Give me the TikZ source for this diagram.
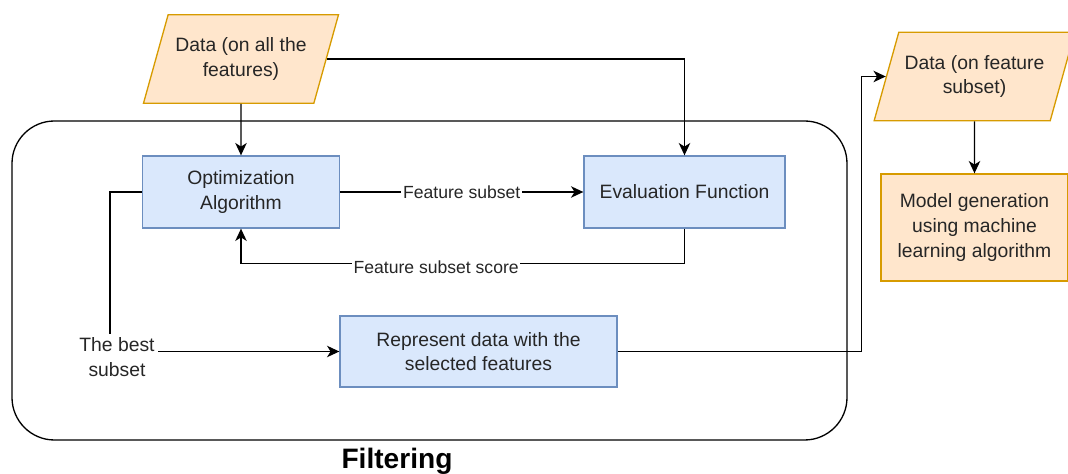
\documentclass[tikz,border=0pt]{standalone}
\usepackage{fontspec}
\setmainfont{Liberation Sans}
\usetikzlibrary{shapes.geometric,arrows.meta}
\definecolor{blockfill}{HTML}{DAE8FC}
\definecolor{blockline}{HTML}{6C8EBF}
\definecolor{datafill}{HTML}{FFE6CC}
\definecolor{dataline}{HTML}{D79B00}

\begin{document}
\begin{tikzpicture}[>={Stealth[length=7pt,width=6.5pt,inset=2pt]},font=\fontsize{11}{14}\selectfont,node distance=1cm]

    % Define node styles
    \tikzstyle{algo_block} = [draw=blockline, fill=blockfill, line width=0.75pt, minimum width=3.94cm, minimum height=1.44cm, text centered, align=center, text=black!85]
    \tikzstyle{represent_block} = [draw=blockline, fill=blockfill, line width=0.75pt, minimum width=5.54cm, minimum height=1.42cm, text centered, align=center, text=black!85]
    \tikzstyle{data_block} = [trapezium, trapezium left angle=65.6, trapezium right angle=114.4, trapezium stretches body, draw=dataline, fill=datafill, line width=0.75pt, minimum width=3.9cm, minimum height=1.77cm, text centered, align=center, text=black!85]
    \tikzstyle{model_block} = [draw=dataline, fill=datafill, line width=0.75pt, minimum width=3.74cm, minimum height=2.14cm, text centered, align=center, text=black!85]
    \tikzstyle{filter_frame} = [draw, line width=0.75pt, rounded corners=0.85cm, minimum width=16.7cm, minimum height=6.38cm]
    \tikzstyle{edge_label} = [fill=white, inner sep=1pt, font=\fontsize{10}{12}\selectfont, text=black!85]

    \useasboundingbox (-4.82,3.84) rectangle (16.54,-5.64);

    % Draw nodes
    \node [filter_frame] at (3.77,-1.77) (filter_box) {};
    \node [algo_block] (optimization) {Optimization\\Algorithm};
    \node [algo_block, right of=optimization, xshift=7.87cm, minimum width=4.02cm] (evaluation) {Evaluation Function};
    \node [data_block, above of=optimization, yshift=1.66cm] (data_all) {Data (on all the\\features)};
    \node [represent_block, below of=optimization, xshift=4.75cm, yshift=-2.19cm] (represent_data) {Represent data with the\\selected features};
    \node [data_block, right of=evaluation, xshift=4.8cm, yshift=2.31cm] (data_subset) {Data (on feature\\subset)};
    \node [model_block, below of=data_subset, yshift=-2.02cm] (model_generation) {Model generation\\using machine\\learning algorithm};
    \node [left of=represent_data, xshift=-6.23cm, yshift=-0.11cm, align=center, inner sep=2pt, text=black!85] (best_subset) {The best\\subset};
    \node [anchor=north, font=\fontsize{16}{18}\selectfont\bfseries] at ([xshift=-0.65cm, yshift=-0.02cm]filter_box.south) (filter_title) {Filtering};

    % Draw arrows
    \draw [->, line width=0.75pt] (data_all) -- (optimization);
    \draw [->, line width=0.75pt] (data_all.east) -| (evaluation.north);
    \draw [->, line width=0.75pt] (optimization.east) -- node[edge_label] {Feature subset} (evaluation.west);
    \draw [->, line width=0.75pt] (evaluation.south) -- ++(0,-0.7) -| node[edge_label, pos=0.28, yshift=-2pt] {Feature subset score} (optimization.south);

    \draw [line width=0.75pt] (optimization.west) -| ([xshift=-0.14cm]best_subset.north);
    \draw [->, line width=0.75pt] (best_subset.east |- represent_data.west) -- (represent_data.west);

    \draw [->, line width=0.75pt] (represent_data.east) -- ++(4.88,0) |- (data_subset.west);
    \draw [->, line width=0.75pt] (data_subset) -- (model_generation);

\end{tikzpicture}
\end{document}
